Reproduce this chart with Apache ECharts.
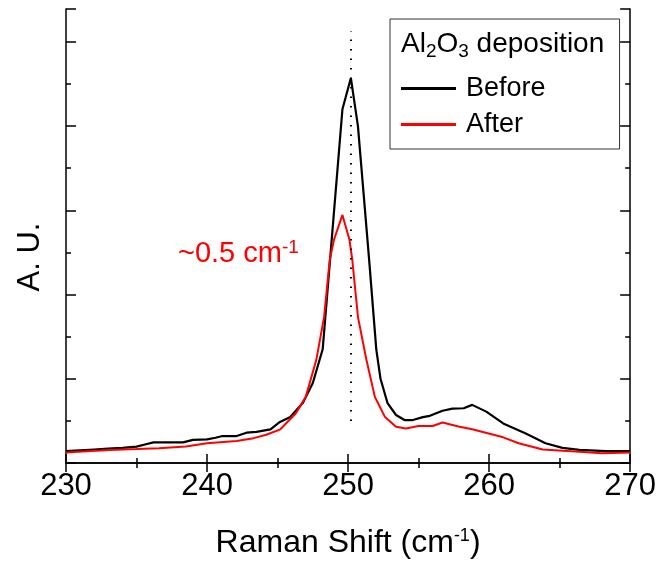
<!DOCTYPE html>
<html>
<head>
<meta charset="utf-8">
<script src="https://cdn.jsdelivr.net/npm/echarts@6/dist/echarts.min.js"></script>
<style>
html, body { margin: 0; padding: 0; background: #fff; }
#chart { width: 659px; height: 564px; }
</style>
</head>
<body>
<div id="chart"></div>
<script>
// Raman spectra (x in cm-1, y in arbitrary units)
var xBefore = [230, 231, 232, 233, 234, 235, 235.6, 236.2, 237, 238.3, 239, 240, 240.6, 241.1, 242.1, 242.8, 243.5, 244, 244.5, 245.1, 245.9, 246.8, 247.5, 248.2, 249.6, 250.2, 250.7, 251.5, 252.0, 252.3, 252.8, 253.4, 254, 254.6, 255.3, 255.8, 256.7, 257.4, 258.2, 258.8, 259.8, 261, 262.6, 264, 265.2, 266.4, 268.3, 270];
var yBefore = [0.28, 0.30, 0.32, 0.34, 0.36, 0.39, 0.44, 0.49, 0.49, 0.49, 0.55, 0.56, 0.60, 0.64, 0.64, 0.72, 0.74, 0.77, 0.80, 0.96, 1.09, 1.43, 1.90, 2.70, 8.40, 9.14, 8.00, 4.80, 2.70, 2.00, 1.42, 1.14, 1.02, 1.02, 1.09, 1.12, 1.24, 1.29, 1.30, 1.38, 1.22, 0.94, 0.70, 0.47, 0.36, 0.31, 0.28, 0.28];
var xAfter = [230, 231.5, 233.1, 235, 236.6, 238.5, 240, 242.1, 243.3, 244.2, 245.2, 246.3, 247, 247.75, 248.3, 248.7, 249.0, 249.6, 250.1, 250.3, 250.7, 251.3, 251.9, 252.6, 253.4, 254.1, 255, 256, 256.7, 257.9, 258.8, 261, 262.1, 263.8, 266.4, 268, 270];
var yAfter = [0.25, 0.28, 0.31, 0.33, 0.35, 0.39, 0.47, 0.52, 0.59, 0.67, 0.80, 1.18, 1.57, 2.45, 3.47, 4.82, 5.30, 5.89, 5.30, 4.82, 3.47, 2.45, 1.57, 1.10, 0.86, 0.82, 0.88, 0.88, 0.96, 0.86, 0.80, 0.61, 0.47, 0.32, 0.27, 0.23, 0.25];
var seriesNames = ['Before', 'After'];
var peakShift = 250.2;
var peakLine = [1, 10.26];

function pairs(xs, ys) {
    var out = [];
    for (var i = 0; i < xs.length; i++) {
        out.push([xs[i], ys[i]]);
    }
    return out;
}

var chart = echarts.init(document.getElementById('chart'));
var font = 'Liberation Sans, Arial, sans-serif';
var tickLine = { color: '#000', width: 1.5 };

option = {
    backgroundColor: '#fff',
    animation: false,
    grid: { left: 66, right: 28, top: 9, bottom: 101 },
    legend: {
        orient: 'vertical',
        left: 390,
        top: 19,
        padding: [56, 74, 11, 11],
        borderColor: '#333',
        borderWidth: 1,
        icon: 'rect',
        itemWidth: 55,
        itemHeight: 3,
        itemGap: 9,
        textStyle: { fontFamily: font, fontSize: 27, color: '#000', lineHeight: 26, padding: [0, 0, 0, 5] },
        data: seriesNames
    },
    xAxis: [{
        type: 'value',
        min: 230, max: 270, interval: 10,
        position: 'bottom',
        name: '{a|Raman Shift (cm}{s|-1}{a|)}',
        nameLocation: 'middle',
        nameGap: 64,
        nameTextStyle: {
            rich: {
                a: { fontFamily: font, fontSize: 32, color: '#000' },
                s: { fontFamily: font, fontSize: 18, color: '#000', padding: [0, 0, 14, 0] }
            }
        },
        axisLine: { lineStyle: tickLine },
        axisTick: { inside: true, length: 9, lineStyle: tickLine },
        minorTick: { show: true, splitNumber: 2, length: 5, lineStyle: tickLine },
        axisLabel: { fontFamily: font, fontSize: 31, color: '#000', margin: 8 },
        splitLine: { show: false }
    }, {
        type: 'value',
        min: 230, max: 270, interval: 10,
        position: 'top',
        axisLine: { lineStyle: tickLine },
        axisTick: { inside: true, length: 9, lineStyle: tickLine },
        minorTick: { show: true, splitNumber: 2, length: 5, lineStyle: tickLine },
        axisLabel: { show: false },
        splitLine: { show: false }
    }],
    yAxis: [{
        type: 'value',
        min: 0, max: 10.78, interval: 2,
        position: 'left',
        axisLine: { show: true, lineStyle: tickLine },
        axisTick: { show: true, inside: true, length: 10, lineStyle: tickLine },
        minorTick: { show: true, splitNumber: 2, length: 5, lineStyle: tickLine },
        axisLabel: { show: false },
        splitLine: { show: false }
    }, {
        type: 'value',
        min: 0, max: 10.78, interval: 2,
        position: 'right',
        axisLine: { show: true, lineStyle: tickLine },
        axisTick: { show: true, inside: true, length: 10, lineStyle: tickLine },
        minorTick: { show: true, splitNumber: 2, length: 5, lineStyle: tickLine },
        axisLabel: { show: false },
        splitLine: { show: false }
    }],
    series: [{
        name: seriesNames[0],
        type: 'line',
        symbol: 'none',
        color: '#000',
        lineStyle: { color: '#000', width: 2.2 },
        data: pairs(xBefore, yBefore),
        z: 3,
        markLine: {
            silent: true,
            symbol: 'none',
            label: { show: false },
            lineStyle: { color: '#000', width: 2, type: [1.5, 8] },
            data: [[{ coord: [peakShift, peakLine[0]] }, { coord: [peakShift, peakLine[1]] }]]
        }
    }, {
        name: seriesNames[1],
        type: 'line',
        symbol: 'none',
        color: '#ff0000',
        lineStyle: { color: '#ff0000', width: 2 },
        data: pairs(xAfter, yAfter),
        z: 4
    }],
    graphic: [{
        type: 'text',
        x: 30, y: 257,
        rotation: Math.PI / 2,
        style: {
            text: 'A. U.', fontFamily: font, fontSize: 31, fill: '#000',
            align: 'center', verticalAlign: 'middle'
        }
    }, {
        type: 'text',
        x: 401, y: 44,
        style: {
            text: '{a|Al}{b|2}{a|O}{b|3}{a| deposition}',
            verticalAlign: 'middle',
            rich: {
                a: { fontFamily: font, fontSize: 28, fill: '#000' },
                b: { fontFamily: font, fontSize: 19, fill: '#000', padding: [16, 0, 0, 0] }
            }
        }
    }, {
        type: 'text',
        x: 178, y: 254,
        style: {
            text: '{a|~0.5 cm}{s|-1}',
            verticalAlign: 'middle',
            rich: {
                a: { fontFamily: font, fontSize: 29, fill: '#ff0000' },
                s: { fontFamily: font, fontSize: 19, fill: '#ff0000', padding: [0, 0, 12, 0] }
            }
        }
    }]
};

chart.setOption(option);
</script>
</body>
</html>
